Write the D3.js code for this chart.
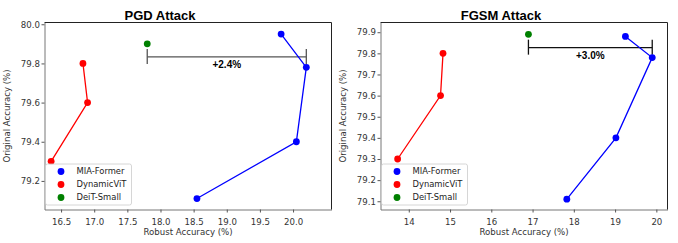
<!DOCTYPE html>
<html>
<head>
<meta charset="utf-8">
<script src="https://cdn.jsdelivr.net/npm/d3@7"></script>
<style>
  body { margin: 0; background: #fff; }
  text { font-family: "DejaVu Sans", sans-serif; }
</style>
</head>
<body>
<script>
// PGD panel
const pgdMia = [[19.82, 79.95], [20.2, 79.78], [20.05, 79.4], [18.55, 79.11]];
const pgdDyn = [[16.83, 79.8], [16.9, 79.6], [16.35, 79.3]];
const pgdDeit = [[17.8, 79.9]];
const pgdXTicks = [16.5, 17.0, 17.5, 18.0, 18.5, 19.0, 19.5, 20.0];
const pgdYTicks = [79.2, 79.4, 79.6, 79.8, 80.0];
const pgdGap = { x0: 17.8, x1: 20.2, y: 79.833, label: "+2.4%" };

// FGSM panel
const fgsmMia = [[19.25, 79.88], [19.9, 79.78], [19.02, 79.4], [17.83, 79.11]];
const fgsmDyn = [[14.83, 79.8], [14.77, 79.6], [13.73, 79.3]];
const fgsmDeit = [[16.9, 79.89]];
const fgsmXTicks = [14, 15, 16, 17, 18, 19, 20];
const fgsmYTicks = [79.1, 79.2, 79.3, 79.4, 79.5, 79.6, 79.7, 79.8, 79.9];
const fgsmGap = { x0: 16.9, x1: 19.9, y: 79.827, label: "+3.0%" };

const names = ["MIA-Former", "DynamicViT", "DeiT-Small"];
const colors = ["#0000ff", "#ff0000", "#008000"];

const svg = d3.select("body").append("svg")
    .attr("width", 678)
    .attr("height", 243);

function panel(opt) {
    let x = d3.scaleLinear().domain(opt.xDom).range([opt.left, opt.right]);
    let y = d3.scaleLinear().domain(opt.yDom).range([opt.bottom, opt.top]);
    let g = svg.append("g");

    // title (sits a bit left of the plot centre, like the original)
    g.append("text")
        .attr("x", opt.titleX)
        .attr("y", 19.5)
        .attr("text-anchor", "middle")
        .attr("font-size", "13px")
        .attr("font-weight", "bold")
        .style("font-family", "Liberation Sans, Arial, sans-serif")
        .text(opt.title);

    // axes
    let xAxis = g.append("g")
        .attr("transform", `translate(0,${opt.bottom})`)
        .call(d3.axisBottom(x).tickValues(opt.xTicks).tickFormat(opt.xFmt).tickSize(3).tickSizeOuter(0));
    let yAxis = g.append("g")
        .attr("transform", `translate(${opt.left},0)`)
        .call(d3.axisLeft(y).tickValues(opt.yTicks).tickFormat(d3.format(".1f")).tickSize(3).tickSizeOuter(0));
    [xAxis, yAxis].forEach(a => {
        a.select(".domain").attr("stroke", "#777");
        a.selectAll(".tick line").attr("stroke", "#555");
        a.selectAll(".tick text").attr("font-size", "8.6px").attr("fill", "#333");
    });
    xAxis.selectAll(".tick text").attr("dy", "1.05em");
    yAxis.selectAll(".tick text").attr("x", -4.5);
    // top and right spines
    g.append("line")
        .attr("x1", opt.left).attr("x2", opt.right)
        .attr("y1", opt.top).attr("y2", opt.top)
        .attr("stroke", "#222");
    g.append("line")
        .attr("x1", opt.right).attr("x2", opt.right)
        .attr("y1", opt.top).attr("y2", opt.bottom)
        .attr("stroke", "#222");

    // axis labels
    g.append("text")
        .attr("x", (opt.left + opt.right) / 2)
        .attr("y", 235)
        .attr("text-anchor", "middle")
        .attr("font-size", "8.6px")
        .attr("fill", "#333")
        .text("Robust Accuracy (%)");
    g.append("text")
        .attr("transform", `translate(${opt.left - 35},${(opt.top + opt.bottom) / 2}) rotate(-90)`)
        .attr("text-anchor", "middle")
        .attr("font-size", "8.6px")
        .attr("fill", "#333")
        .text("Original Accuracy (%)");

    // gap bracket
    let gap = opt.gap;
    g.append("line")
        .attr("x1", x(gap.x0)).attr("x2", x(gap.x1))
        .attr("y1", y(gap.y)).attr("y2", y(gap.y))
        .attr("stroke", opt.gapColor).attr("stroke-width", 1.3);
    [gap.x0, gap.x1].forEach(v => {
        g.append("line")
            .attr("x1", x(v)).attr("x2", x(v))
            .attr("y1", y(gap.y) - 8).attr("y2", y(gap.y) + 7)
            .attr("stroke", opt.gapColor).attr("stroke-width", 1.3);
    });
    g.append("text")
        .attr("x", (x(gap.x0) + x(gap.x1)) / 2)
        .attr("y", y(gap.y) + 11)
        .attr("text-anchor", "middle")
        .attr("font-size", "10px")
        .attr("font-weight", "bold")
        .style("font-family", "Liberation Sans, Arial, sans-serif")
        .text(gap.label);

    // series
    let line = d3.line().x(d => x(d[0])).y(d => y(d[1]));
    opt.series.forEach((s, i) => {
        g.append("path")
            .datum(s)
            .attr("d", line)
            .attr("fill", "none")
            .attr("stroke", colors[i])
            .attr("stroke-width", 1.3);
        g.selectAll(null)
            .data(s)
            .enter().append("circle")
            .attr("cx", d => x(d[0]))
            .attr("cy", d => y(d[1]))
            .attr("r", 3.4)
            .attr("fill", colors[i]);
    });

    // legend
    let lg = g.append("g").attr("transform", `translate(${opt.left + 1},${164})`);
    lg.append("rect")
        .attr("x", 0).attr("y", 0)
        .attr("width", 86).attr("height", 41)
        .attr("rx", 2)
        .attr("fill", "white").attr("fill-opacity", 0.85)
        .attr("stroke", "#ccc").attr("stroke-width", 0.8);
    names.forEach((n, i) => {
        lg.append("circle")
            .attr("cx", 15.5).attr("cy", 7.5 + i * 13)
            .attr("r", 3.4)
            .attr("fill", colors[i]);
        lg.append("text")
            .attr("x", 31).attr("y", 7.5 + i * 13)
            .attr("dy", "0.35em")
            .attr("font-size", "8.4px")
            .attr("fill", "#222")
            .text(n);
    });
}

panel({
    title: "PGD Attack", titleX: 160,
    left: 44.5, right: 331.5, top: 22.5, bottom: 209.5,
    xDom: [16.25, 20.58], yDom: [79.054, 80.009],
    xTicks: pgdXTicks, yTicks: pgdYTicks, xFmt: d3.format(".1f"),
    series: [pgdMia, pgdDyn, pgdDeit],
    gap: pgdGap, gapColor: "#555"
});

panel({
    title: "FGSM Attack", titleX: 501,
    left: 380.5, right: 667.5, top: 22.5, bottom: 209.5,
    xDom: [13.315, 20.27], yDom: [79.061, 79.946],
    xTicks: fgsmXTicks, yTicks: fgsmYTicks, xFmt: d3.format("d"),
    series: [fgsmMia, fgsmDyn, fgsmDeit],
    gap: fgsmGap, gapColor: "#111"
});
</script>
</body>
</html>
